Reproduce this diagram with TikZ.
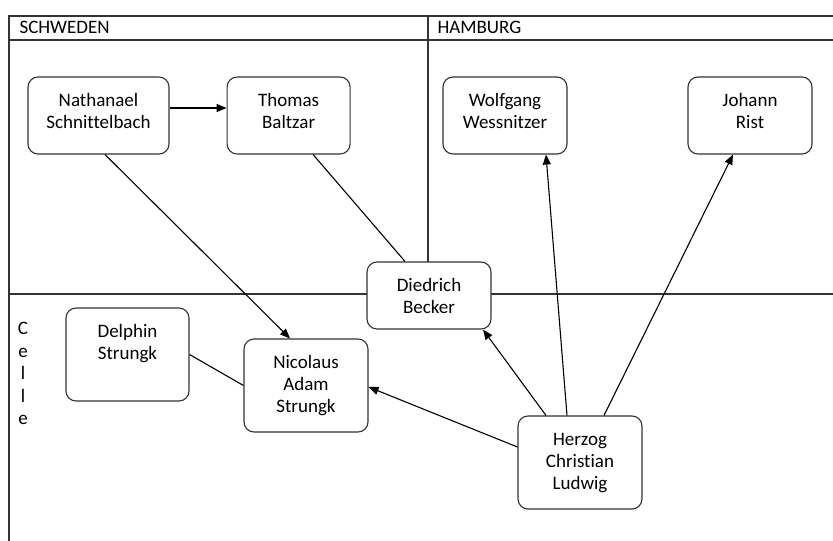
\documentclass[tikz,border=0pt]{standalone}
\usepackage{fontspec}
\setmainfont{Carlito}[Ligatures=NoCommon]
\usepackage{tikz}
\usetikzlibrary{arrows.meta, positioning}

\begin{document}
\begin{tikzpicture}[
    x=1pt, y=-1pt,
    line width=1.1pt,
    every node/.style={font=\fontsize{19}{22}\selectfont, inner sep=0pt},
    box/.style 2 args={draw=black!80, fill=white, rounded corners=10pt, align=center,
      minimum width=124pt, text height=#1pt, text depth=#2pt},
    short/.style={box={51}{16}},
    mid/.style={box={51}{26}},
    tall/.style={box={51}{42}},
    taller/.style={box={73}{20}},
    arr/.style={-{Triangle[length=10pt, width=8pt]}},
    frame/.style={draw=black!80, line width=1.2pt}
  ]
  \useasboundingbox (0,0) rectangle (833,541);

  \draw[frame] (9,541) -- (9,16) -- (833,16);
  \draw[frame] (9,40) -- (833,40);
  \draw[frame] (428,16) -- (428,294);
  \draw[frame] (9,294) -- (833,294);

  \node[anchor=base west] (schweden) at (19,33.5) {SCHWEDEN};
  \node[anchor=base west] (hamburg) at (437,33.5) {HAMBURG};
  \node[anchor=base, align=center, font=\fontsize{19}{22.4}\selectfont] (celle) at (23,424.5) {C\\e\\l\\l\\e};

  \node[mid, minimum width=141pt] (nath) at (98.5,115.5) {Nathanael\\Schnittelbach};
  \node[mid, minimum width=123pt, right=57pt of nath] (thomas) {Thomas\\Baltzar};
  \node[mid] (wolf) at (505,115.5) {Wolfgang\\Wessnitzer};
  \node[mid] (johann) at (750,115.5) {Johann\\Rist};
  \node[short] (died) at (429,295.5) {Diedrich\\Becker};
  \node[tall, minimum width=123pt] (delph) at (127.5,354.5) {Delphin\\Strungk};
  \node[taller] (nic) at (306,385.5) {Nicolaus\\Adam\\Strungk};
  \node[taller] (herzog) at (580,462.5) {Herzog\\Christian\\Ludwig};

  \draw[arr] ([yshift=7.5pt]nath.east) -- ([yshift=7.5pt]thomas.west);
  \draw[arr] ([xshift=6.5pt]nath.south) -- ([xshift=-16pt]nic.north);
  \draw ([xshift=24.5pt]thomas.south) -- ([xshift=-24pt]died.north);
  \draw (delph.east) -- (nic.west);
  \draw[arr] ([xshift=-34pt]herzog.north) -- ([xshift=54pt]died.south);
  \draw[arr] ([xshift=-13pt]herzog.north) -- ([xshift=41pt]wolf.south);
  \draw[arr] ([xshift=24pt]herzog.north) -- ([xshift=-17pt]johann.south);
  \draw[arr] ([yshift=15.5pt]herzog.west) -- ([yshift=-1.5pt]nic.east);
\end{tikzpicture}
\end{document}
